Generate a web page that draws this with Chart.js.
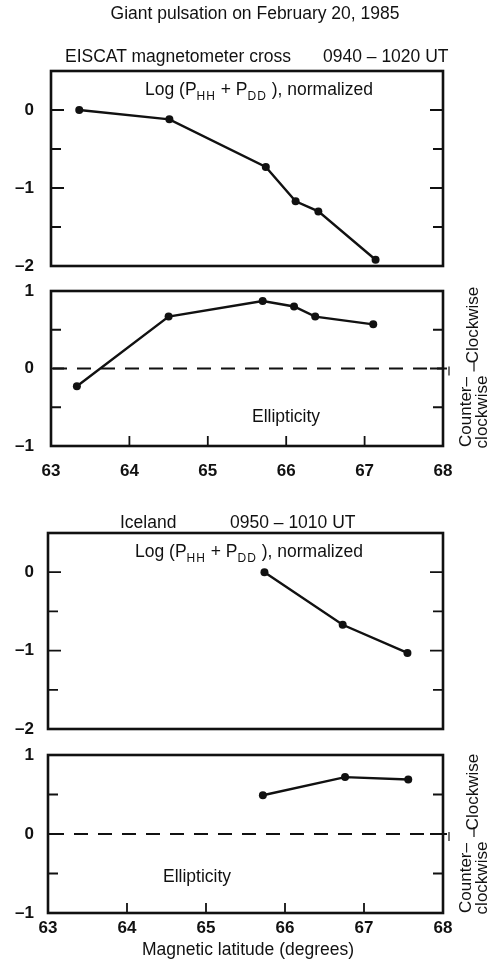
<!DOCTYPE html>
<html>
<head>
<meta charset="utf-8">
<script src="https://cdn.jsdelivr.net/npm/chart.js@4.4.1/dist/chart.umd.min.js"></script>
<style>
body{margin:0;background:#fff;}
#page{position:relative;width:494px;height:970px;overflow:hidden;font-family:"Liberation Sans",Arial,sans-serif;color:#111;}
canvas{position:absolute;left:0;top:0;}
.txt{position:absolute;white-space:nowrap;font-size:17.5px;line-height:1;}
.c{transform:translate(-50%,-50%);}
.l{transform:translateY(-50%);}
.rot{transform:translate(-50%,-50%) rotate(-90deg);font-size:17px;line-height:16px;text-align:center;}
sub{font-size:12px;vertical-align:-5px;letter-spacing:1px;}
</style>
</head>
<body>
<div id="page">
<canvas id="c1" width="494" height="970"></canvas>
<canvas id="c2" width="494" height="970"></canvas>
<canvas id="c3" width="494" height="970"></canvas>
<canvas id="c4" width="494" height="970"></canvas>

<div class="txt c" style="left:255px;top:14px;">Giant pulsation on February 20, 1985</div>
<div class="txt l" style="left:65px;top:57px;">EISCAT magnetometer cross</div>
<div class="txt l" style="left:323px;top:57px;">0940 – 1020 UT</div>
<div class="txt l" style="left:145px;top:91px;">Log (P<sub>HH</sub> + P<sub>DD</sub> ), normalized</div>
<div class="txt c" style="left:286px;top:417px;">Ellipticity</div>
<div class="txt rot" style="left:473px;top:325px;">Clockwise</div>
<div class="txt rot" style="left:474px;top:412px;">Counter–<br>clockwise</div>

<div class="txt l" style="left:120px;top:523px;">Iceland</div>
<div class="txt l" style="left:230px;top:523px;">0950 – 1010 UT</div>
<div class="txt l" style="left:135px;top:553px;">Log (P<sub>HH</sub> + P<sub>DD</sub> ), normalized</div>
<div class="txt c" style="left:197px;top:877px;">Ellipticity</div>
<div class="txt rot" style="left:473px;top:792px;">Clockwise</div>
<div class="txt rot" style="left:474px;top:878px;">Counter–<br>clockwise</div>
<div class="txt c" style="left:248px;top:950px;">Magnetic latitude (degrees)</div>
</div>

<script>
// values
const latEiscatLog = [63.36, 64.51, 65.74, 66.12, 66.41, 67.14];
const logEiscat = [0.0, -0.12, -0.73, -1.17, -1.30, -1.92];
const latEiscatEll = [63.33, 64.50, 65.70, 66.10, 66.37, 67.11];
const ellEiscat = [-0.23, 0.67, 0.87, 0.80, 0.67, 0.57];
const latIcelandLog = [65.74, 66.73, 67.55];
const logIceland = [0.0, -0.67, -1.03];
const latIcelandEll = [65.72, 66.76, 67.56];
const ellIceland = [0.49, 0.72, 0.69];

const xTicks = [63, 64, 65, 66, 67, 68];
const xInnerTicks = [64, 65, 66, 67];
const logTicks = [0, -1, -2];
const logSideTicks = [0, -0.5, -1, -1.5];
const ellTicks = [1, 0, -1];
const ellSideTicks = [0.5, 0, -0.5];

const INK = '#111';
const TICK_FONT = {family: '"Liberation Sans", Arial', size: 17, weight: 'bold'};

function fmt(v){
    return v < 0 ? '–' + Math.abs(v) : String(v);
}

function toPoints(xs, ys){
    return xs.map((x, i) => ({x: x, y: ys[i]}));
}

// frame, inward ticks, zero line, small marks
const framePlugin = {
    id: 'frame',
    afterDraw(chart, args, o){
        const ctx = chart.ctx;
        const a = chart.chartArea;
        const ys = chart.scales.y;
        const xs = chart.scales.x;
        ctx.save();
        ctx.strokeStyle = INK;
        ctx.lineWidth = 1.8;
        o.sideTicks.forEach((v) => {
            const py = ys.getPixelForValue(v);
            const len = Number.isInteger(v) ? 13 : 10;
            ctx.beginPath();
            ctx.moveTo(a.left, py); ctx.lineTo(a.left + len, py);
            ctx.moveTo(a.right, py); ctx.lineTo(a.right - len, py);
            ctx.stroke();
        });
        if(o.bottomTicks){
            o.bottomTicks.forEach((v) => {
                const px = xs.getPixelForValue(v);
                ctx.beginPath();
                ctx.moveTo(px, a.bottom); ctx.lineTo(px, a.bottom - 10);
                ctx.stroke();
            });
        }
        if(o.zeroLine){
            const py = ys.getPixelForValue(0);
            ctx.setLineDash([14, 10]);
            ctx.lineWidth = 1.8;
            ctx.beginPath();
            ctx.moveTo(a.left + 2, py); ctx.lineTo(a.right + 4, py);
            ctx.stroke();
            ctx.setLineDash([]);
            ctx.lineWidth = 1.2;
            ctx.beginPath();
            ctx.moveTo(a.right + 6, py - 2); ctx.lineTo(a.right + 6, py + 7);
            ctx.moveTo(a.right + 31, py - 7); ctx.lineTo(a.right + 31, py + 3);
            ctx.stroke();
        }
        ctx.lineWidth = 2.6;
        ctx.strokeRect(a.left, a.top, a.right - a.left, a.bottom - a.top);
        ctx.restore();
    }
};

class Panel{
    constructor(id, box, data, yRange, yTicks, opts){
        const showX = opts.showX;
        this.chart = new Chart(document.getElementById(id), {
            type: 'scatter',
            data: {
                datasets: [{
                    data: data,
                    showLine: true,
                    borderColor: INK,
                    backgroundColor: INK,
                    borderWidth: 2.4,
                    pointRadius: 4,
                    pointBorderWidth: 0,
                    tension: 0
                }]
            },
            options: {
                responsive: false,
                animation: false,
                clip: false,
                layout: {padding: {left: 0, top: box.top, right: 494 - box.right, bottom: 970 - box.bottom - 30}},
                plugins: {
                    legend: {display: false},
                    tooltip: {enabled: false},
                    frame: {sideTicks: opts.sideTicks, bottomTicks: showX ? xInnerTicks : null, zeroLine: opts.zeroLine}
                },
                scales: {
                    x: {
                        type: 'linear', min: 63, max: 68,
                        grid: {display: false, drawTicks: false},
                        border: {display: false},
                        afterBuildTicks: (s) => { s.ticks = xTicks.map((v) => ({value: v})); },
                        afterFit: (s) => { s.height = 30; },
                        ticks: {display: showX, padding: opts.xPad || 10, color: INK, font: TICK_FONT}
                    },
                    y: {
                        type: 'linear', min: yRange[0], max: yRange[1],
                        grid: {display: false, drawTicks: false},
                        border: {display: false},
                        afterBuildTicks: (s) => { s.ticks = yTicks.map((v) => ({value: v})); },
                        afterFit: (s) => { s.width = box.left; },
                        ticks: {padding: box.left - 34, color: INK, callback: (v) => fmt(v), font: TICK_FONT}
                    }
                }
            },
            plugins: [framePlugin]
        });
    }
}

new Panel('c1', {left: 51, right: 443, top: 71, bottom: 266},
    toPoints(latEiscatLog, logEiscat), [-2, 0.5], logTicks, {showX: false, sideTicks: logSideTicks});
new Panel('c2', {left: 51, right: 443, top: 291, bottom: 446},
    toPoints(latEiscatEll, ellEiscat), [-1, 1], ellTicks, {showX: true, xPad: 15, sideTicks: ellSideTicks, zeroLine: true});
new Panel('c3', {left: 48, right: 443, top: 533, bottom: 729},
    toPoints(latIcelandLog, logIceland), [-2, 0.5], logTicks, {showX: false, sideTicks: logSideTicks});
new Panel('c4', {left: 48, right: 443, top: 755, bottom: 913},
    toPoints(latIcelandEll, ellIceland), [-1, 1], ellTicks, {showX: true, xPad: 5, sideTicks: ellSideTicks, zeroLine: true});
</script>
</body>
</html>
